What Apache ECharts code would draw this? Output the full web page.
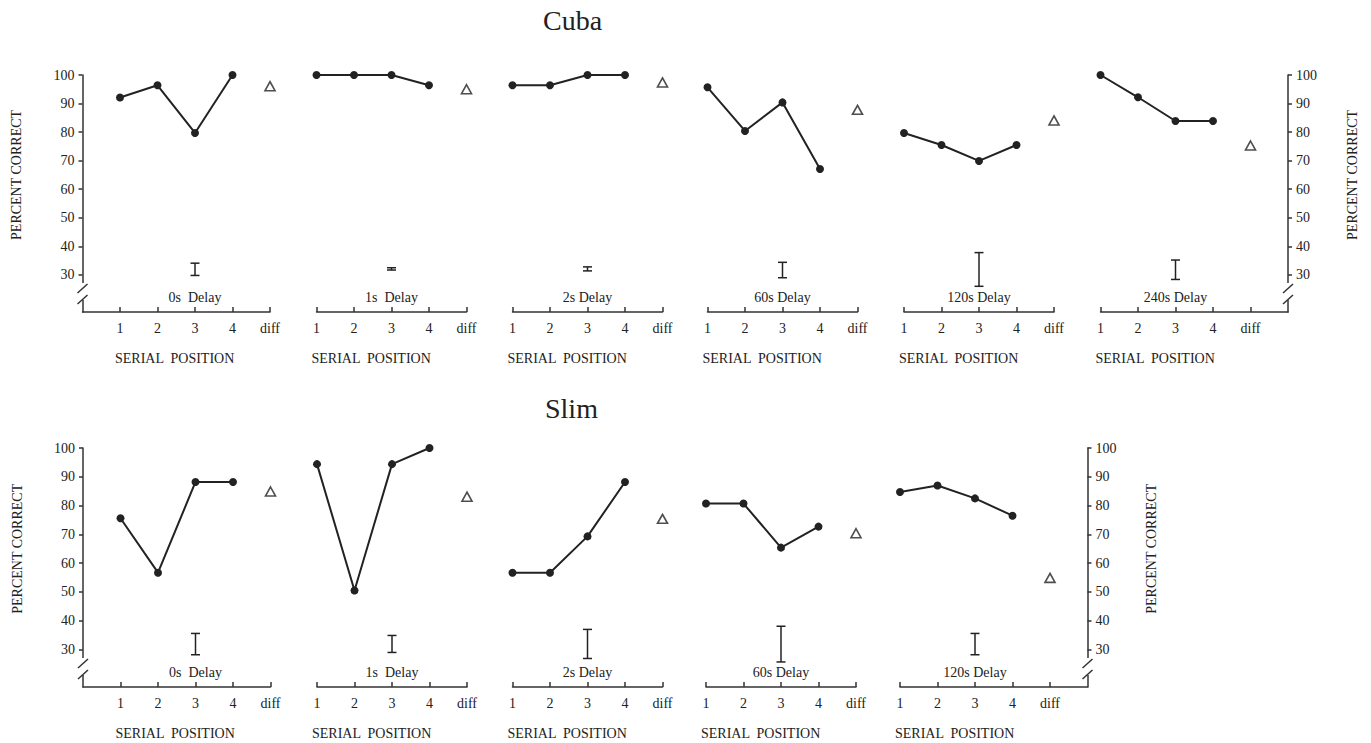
<!DOCTYPE html>
<html>
<head>
<meta charset="utf-8">
<script src="https://cdn.jsdelivr.net/npm/echarts@6/dist/echarts.min.js"></script>
<style>
  html, body { margin: 0; padding: 0; background: #fff; }
  #chart { width: 1371px; height: 743px; }
</style>
</head>
<body>
<div id="chart"></div>
<script>
// serial positions and the "diff" slot on each x axis
var positions = [1, 2, 3, 4];
var diffPos = 5;
var errPos = 3;
var xTickValues = [1, 2, 3, 4, 5];
var yTickValues = [30, 40, 50, 60, 70, 80, 90, 100];

// Cuba
var cubaDelays = ['0s  Delay', '1s  Delay', '2s Delay', '60s Delay', '120s Delay', '240s Delay'];
var cubaCorrect = [
  [92.1, 96.4, 79.7, 100],
  [100, 100, 100, 96.4],
  [96.4, 96.4, 100, 100],
  [95.7, 80.4, 90.4, 67.1],
  [79.7, 75.5, 69.9, 75.5],
  [100, 92.2, 83.9, 83.9]
];
var cubaDiff = [96.1, 95.0, 97.4, 87.8, 84.1, 75.3];
var cubaErrLow = [29.8, 31.7, 31.4, 29.0, 26.0, 28.4];
var cubaErrHigh = [34.1, 32.5, 32.8, 34.4, 37.8, 35.2];

// Slim
var slimDelays = ['0s  Delay', '1s  Delay', '2s Delay', '60s Delay', '120s Delay'];
var slimCorrect = [
  [75.6, 56.7, 88.2, 88.2],
  [94.4, 50.5, 94.4, 100],
  [56.7, 56.7, 69.3, 88.2],
  [80.7, 80.7, 65.4, 72.7],
  [84.7, 87.0, 82.5, 76.5]
];
var slimDiff = [84.9, 83.1, 75.4, 70.4, 54.9];
var slimErrLow = [28.2, 29.0, 26.9, 25.7, 28.2];
var slimErrHigh = [35.6, 34.9, 37.0, 38.1, 35.6];

// layout of the two rows of panels (pixels)
var rows = [
  {title: 'Cuba', titleLeft: 543, titleTop: 6, top: 75, height: 237,
   starts: [120, 316.5, 512.5, 707.5, 904, 1100.5],
   delays: cubaDelays, correct: cubaCorrect, diff: cubaDiff, lo: cubaErrLow, hi: cubaErrHigh},
  {title: 'Slim', titleLeft: 545, titleTop: 394, top: 448, height: 239,
   starts: [120.5, 317, 512.5, 706, 900],
   delays: slimDelays, correct: slimCorrect, diff: slimDiff, lo: slimErrLow, hi: slimErrHigh}
];
var unit = 37.5;   // px per serial position step
var ink = '#222';
var axisInk = '#333';
var serif = '"Liberation Serif", "Times New Roman", serif';

var chart = echarts.init(document.getElementById('chart'), null, {renderer: 'svg'});

var grids = [], xAxes = [], yAxes = [], series = [], titles = [], panels = [];

rows.forEach(function (row, r) {
  titles.push({
    text: row.title, left: row.titleLeft, top: row.titleTop, padding: 0,
    textStyle: {fontFamily: serif, fontSize: 28, fontWeight: 'normal', color: ink}
  });
  var n = row.starts.length;
  row.starts.forEach(function (start, i) {
    var first = i === 0, last = i === n - 1;
    var xMin = first ? 0 : 1;
    var xMax = last ? 6 : 5;
    var g = grids.length;
    grids.push({
      left: start - (1 - xMin) * unit, top: row.top,
      width: (xMax - xMin) * unit, height: row.height
    });
    xAxes.push({
      type: 'value', gridIndex: g, min: xMin, max: xMax,
      axisLine: {show: true, onZero: false, lineStyle: {color: axisInk, width: 1.5}},
      axisTick: {show: true, inside: true, length: 5, customValues: xTickValues,
                 lineStyle: {color: axisInk, width: 1.5}},
      axisLabel: {customValues: xTickValues, margin: 9, fontFamily: serif, fontSize: 14, color: ink,
                  formatter: function (v) { return v === diffPos ? 'diff' : String(v); }},
      splitLine: {show: false}
    });
    var showY = first || last;
    yAxes.push({
      type: 'value', gridIndex: g, min: 17, max: 100, show: showY,
      position: last ? 'right' : 'left',
      axisLine: {show: true, onZero: false, lineStyle: {color: axisInk, width: 1.5}},
      axisTick: {show: true, length: 4, customValues: yTickValues, lineStyle: {color: axisInk, width: 1.5}},
      axisLabel: {customValues: yTickValues, margin: 8, fontFamily: serif, fontSize: 14, color: ink},
      splitLine: {show: false}
    });
    series.push({
      type: 'line', xAxisIndex: g, yAxisIndex: g,
      data: positions.map(function (p, j) { return [p, row.correct[i][j]]; }),
      symbol: 'circle', symbolSize: 8,
      lineStyle: {color: ink, width: 2},
      itemStyle: {color: ink}
    });
    series.push({
      type: 'scatter', xAxisIndex: g, yAxisIndex: g,
      data: [[diffPos, row.diff[i]]],
      symbol: 'triangle', symbolSize: [10, 9],
      itemStyle: {color: '#fff', borderColor: ink, borderWidth: 1.6}
    });
    series.push({
      type: 'custom', xAxisIndex: g, yAxisIndex: g,
      data: [[errPos, row.lo[i], row.hi[i]]],
      encode: {x: 0, y: [1, 2]},
      renderItem: function (params, api) {
        var a = api.coord([api.value(0), api.value(1)]);
        var b = api.coord([api.value(0), api.value(2)]);
        var w = 4.5;
        var st = {stroke: ink, lineWidth: 1.5};
        return {type: 'group', children: [
          {type: 'line', shape: {x1: a[0], y1: a[1], x2: b[0], y2: b[1]}, style: st},
          {type: 'line', shape: {x1: a[0] - w, y1: a[1], x2: a[0] + w, y2: a[1]}, style: st},
          {type: 'line', shape: {x1: b[0] - w, y1: b[1], x2: b[0] + w, y2: b[1]}, style: st}
        ]};
      }
    });
    panels.push({grid: g, row: row, i: i, first: first, last: last, xMin: xMin, xMax: xMax});
  });
});

chart.setOption({
  animation: false,
  backgroundColor: '#fff',
  title: titles,
  grid: grids,
  xAxis: xAxes,
  yAxis: yAxes,
  series: series
});

// text labels and axis breaks placed through the axes' own scales
var graphics = [];
function px(g, x, y) { return chart.convertToPixel({gridIndex: g}, [x, y]); }
function breakMark(ax, bottom) {
  var st = {stroke: axisInk, lineWidth: 1.5};
  graphics.push({type: 'rect', z: 100, shape: {x: ax - 3, y: bottom - 29, width: 6, height: 17}, style: {fill: '#fff'}});
  graphics.push({type: 'line', z: 101, shape: {x1: ax - 5, y1: bottom - 19, x2: ax + 5, y2: bottom - 28}, style: st});
  graphics.push({type: 'line', z: 101, shape: {x1: ax - 5, y1: bottom - 8, x2: ax + 5, y2: bottom - 17}, style: st});
}
function yName(x, y) {
  graphics.push({type: 'text', z: 100, x: x, y: y, rotation: Math.PI / 2,
    style: {text: 'PERCENT CORRECT', font: '14px ' + serif, fill: ink,
            textAlign: 'center', textVerticalAlign: 'middle'}});
}
panels.forEach(function (p) {
  var g = p.grid;
  var bottom = px(g, 1, 17)[1];
  var mid = px(g, errPos, 22);
  graphics.push({type: 'text', z: 100, x: mid[0], y: mid[1],
    style: {text: p.row.delays[p.i], font: '14px ' + serif, fill: ink,
            textAlign: 'center', textVerticalAlign: 'middle'}});
  var one = px(g, 1, 17);
  graphics.push({type: 'text', z: 100, x: one[0] - 5, y: bottom + 46,
    style: {text: 'SERIAL  POSITION', font: '14px ' + serif, fill: ink,
            textAlign: 'left', textVerticalAlign: 'middle'}});
  if (p.first) {
    var ax = px(g, p.xMin, 17)[0];
    breakMark(ax, bottom);
    yName(ax - 66, px(g, 0, 65)[1]);
  }
  if (p.last) {
    var axr = px(g, p.xMax, 17)[0];
    breakMark(axr, bottom);
    yName(axr + 64, px(g, 6, 65)[1]);
  }
});
chart.setOption({graphic: graphics});
</script>
</body>
</html>
